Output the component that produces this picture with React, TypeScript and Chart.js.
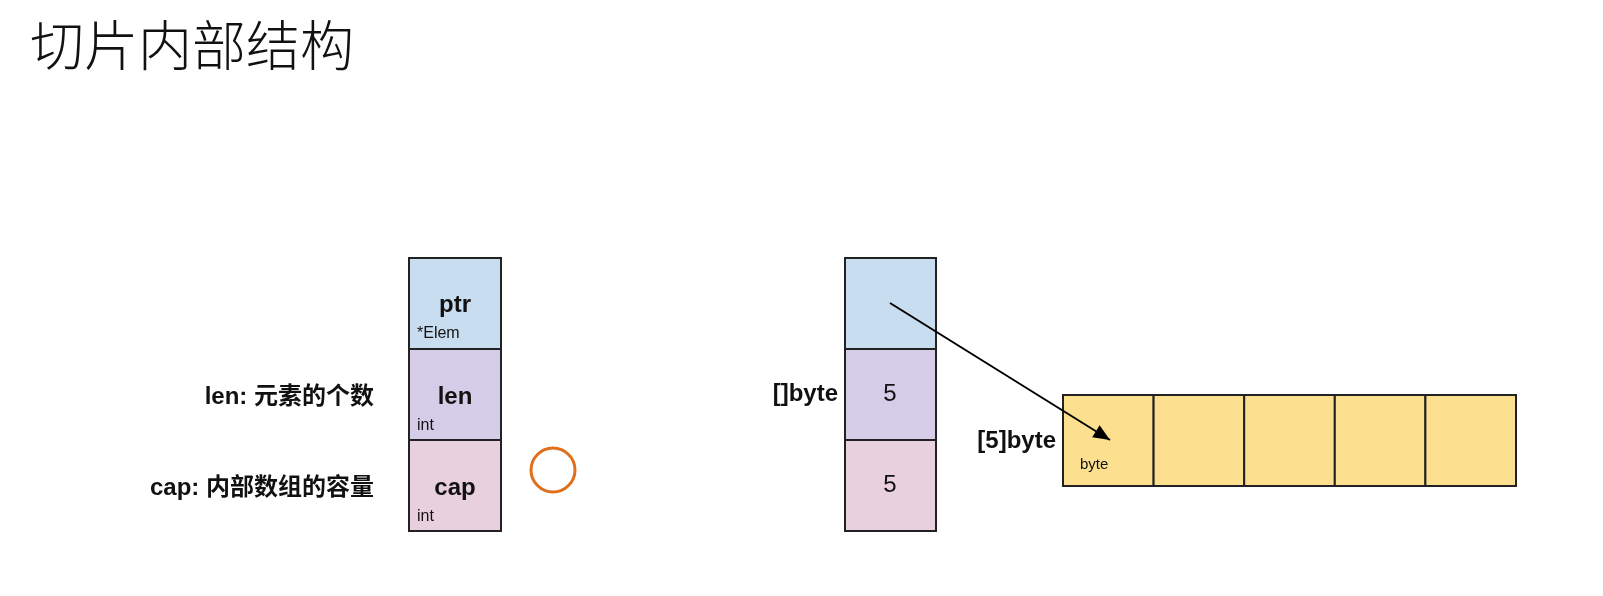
import React, { useEffect, useRef } from 'react';
import Chart from 'chart.js/auto';

// diagram content
const title = '切片内部结构';
const sliceFields = ['ptr', 'len', 'cap'];
const sliceTypes = ['*Elem', 'int', 'int'];
const fieldNotes = ['', 'len: 元素的个数', 'cap: 内部数组的容量'];
const exampleValues = ['', '5', '5'];
const arrayLength = 5;

const cellColors = ['#c9ddf1', '#d5cde7', '#e9d0de'];
const arrayColor = '#fde08f';
const FONT = '"Liberation Sans", Arial, "Noto Sans CJK SC", sans-serif';

const diagramPlugin = {
  id: 'diagram',
  afterDraw(chart: any) {
    const { ctx } = chart;
    const sx = chart.scales.x;
    const sy = chart.scales.y;
    const X = (v: number) => sx.getPixelForValue(v);
    const Y = (v: number) => sy.getPixelForValue(v);
    ctx.save();

    ctx.fillStyle = '#111';
    ctx.font = `300 54px "Noto Sans CJK SC", sans-serif`;
    ctx.textBaseline = 'alphabetic';
    ctx.textAlign = 'left';
    ctx.fillText(title, X(30), Y(66));

    const rect = (x: number, y: number, w: number, h: number, fill: string) => {
      ctx.fillStyle = fill;
      ctx.fillRect(X(x), Y(y), X(x + w) - X(x), Y(y + h) - Y(y));
      ctx.strokeStyle = '#222';
      ctx.lineWidth = 2;
      ctx.strokeRect(X(x), Y(y), X(x + w) - X(x), Y(y + h) - Y(y));
    };
    const text = (s: string, x: number, y: number, font: string, align: CanvasTextAlign) => {
      ctx.fillStyle = '#111';
      ctx.font = font;
      ctx.textAlign = align;
      ctx.textBaseline = 'middle';
      ctx.fillText(s, X(x), Y(y));
    };

    const top = 258, h = 91;
    sliceFields.forEach((f, i) => {
      const y = top + i * h;
      rect(409, y, 92, h, cellColors[i]);
      text(f, 455, y + (i === 0 ? 47 : 48), `bold 24px ${FONT}`, 'center');
      text(sliceTypes[i], 417, y + (i === 0 ? 76 : 77), `16px ${FONT}`, 'left');
      if (fieldNotes[i]) text(fieldNotes[i], 374, y + 48, `bold 24px ${FONT}`, 'right');
      rect(845, y, 91, h, cellColors[i]);
      if (exampleValues[i]) text(exampleValues[i], 890, y + 45, `24px ${FONT}`, 'center');
    });
    text('[]byte', 838, 394, `bold 24px ${FONT}`, 'right');

    const aw = (1516 - 1063) / arrayLength;
    for (let i = 0; i < arrayLength; i++) rect(1063 + i * aw, 395, aw, 91, arrayColor);
    text('[5]byte', 1056, 441, `bold 24px ${FONT}`, 'right');
    text('byte', 1080, 465, `15px ${FONT}`, 'left');

    // arrow
    const x1 = X(890), y1 = Y(303), x2 = X(1110), y2 = Y(440);
    ctx.strokeStyle = '#000';
    ctx.lineWidth = 2;
    ctx.beginPath(); ctx.moveTo(x1, y1); ctx.lineTo(x2, y2); ctx.stroke();
    const a = Math.atan2(y2 - y1, x2 - x1);
    ctx.fillStyle = '#000';
    ctx.beginPath();
    ctx.moveTo(x2, y2);
    ctx.lineTo(x2 - 18 * Math.cos(a - 0.4), y2 - 18 * Math.sin(a - 0.4));
    ctx.lineTo(x2 - 18 * Math.cos(a + 0.4), y2 - 18 * Math.sin(a + 0.4));
    ctx.closePath(); ctx.fill();

    // orange circle
    ctx.strokeStyle = '#e06f1c';
    ctx.lineWidth = 3;
    ctx.beginPath(); ctx.arc(X(553), Y(470), 22, 0, Math.PI * 2); ctx.stroke();
    ctx.restore();
  },
};

const App: React.FC = () => {
  const canvasRef = useRef<HTMLCanvasElement>(null);
  useEffect(() => {
    if (!canvasRef.current) return;
    document.body.style.margin = '0';
    document.body.style.overflow = 'hidden';
    const chart = new Chart(canvasRef.current, {
      type: 'scatter',
      data: { datasets: [{ data: [] }] },
      options: {
        animation: false,
        responsive: false,
        layout: { padding: 0 },
        plugins: { legend: { display: false }, tooltip: { enabled: false } },
        scales: {
          x: { type: 'linear', min: 0, max: 1603, display: false },
          y: { type: 'linear', min: 0, max: 596, reverse: true, display: false },
        },
      },
      plugins: [diagramPlugin],
    });
    return () => chart.destroy();
  }, []);
  return (
    <div style={{ position: 'fixed', left: 0, top: 0, width: 1603, height: 596, background: '#fff' }}>
      <canvas ref={canvasRef} width={1603} height={596} style={{ width: 1603, height: 596 }} />
    </div>
  );
};

export default App;
